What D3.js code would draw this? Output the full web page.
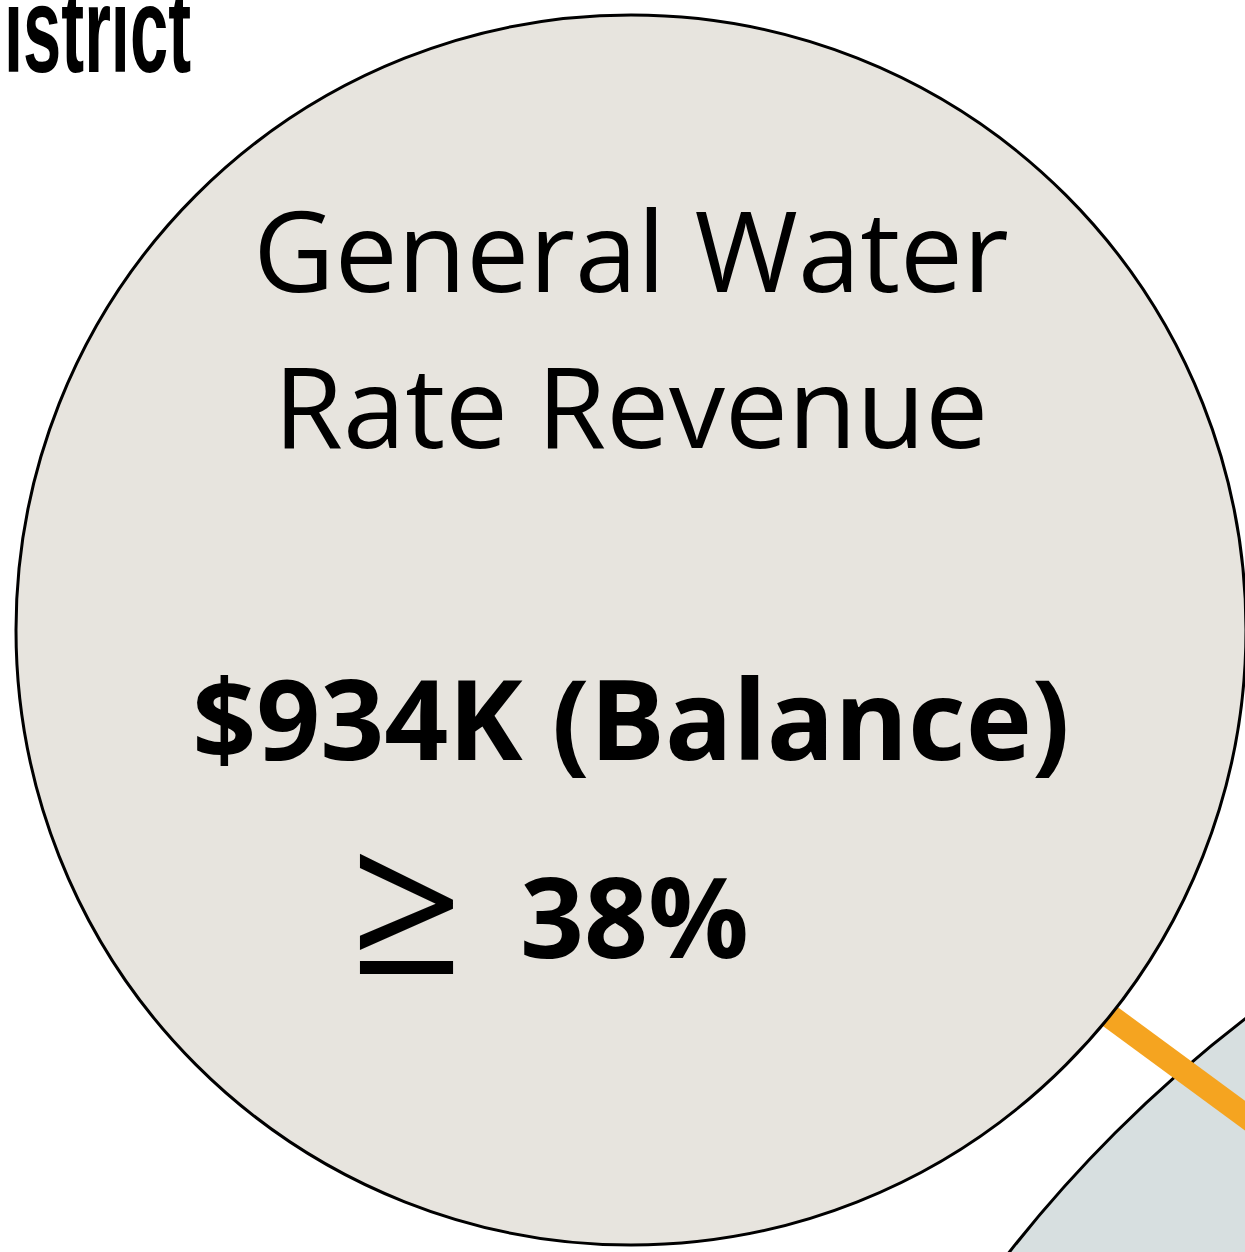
<!DOCTYPE html>
<html lang="en">
<head>
<meta charset="UTF-8">
<title>General Water Rate Revenue</title>
<style>
  html, body { margin: 0; padding: 0; background: #ffffff; }
  svg { display: block; }
</style>
</head>
<body>
<script src="https://d3js.org/d3.v7.min.js"></script>
<div id="chart"></div>
<script>
// data
const headerWord = "istrict";
const titleLines = ["General Water", "Rate Revenue"];
const balanceLabel = ["$934K", "(Balance)"];
const shareSymbol = "\u2265";
const shareValues = [38];

// page size
const width = 1245, height = 1252;

const svg = d3.select("#chart")
  .append("svg")
  .attr("width", width)
  .attr("height", height);

// the big neighbouring bubble (only its corner is seen)
svg.append("circle")
  .attr("cx", 2064)
  .attr("cy", 2082)
  .attr("r", 1342)
  .attr("fill", "#d7dfe0")
  .attr("stroke", "#000")
  .attr("stroke-width", 3);

// orange connector, runs under the main bubble
const link = d3.line();
svg.append("path")
  .attr("d", link([[900, 862], [1300, 1156]]))
  .attr("stroke", "#f5a420")
  .attr("stroke-width", 24)
  .attr("fill", "none");

// main bubble
const cx = 631, cy = 630, r = 615;
svg.append("circle")
  .attr("cx", cx)
  .attr("cy", cy)
  .attr("r", r)
  .attr("fill", "#e7e4de")
  .attr("stroke", "#000")
  .attr("stroke-width", 3);

// title, two lines
svg.append("g")
  .selectAll("text")
  .data(titleLines)
  .join("text")
  .attr("x", cx)
  .attr("y", (d, i) => 292 + i * 156)
  .attr("text-anchor", "middle")
  .attr("font-family", "'Open Sans', sans-serif")
  .attr("font-size", 112)
  .attr("fill", "#000")
  .text(d => d);

// balance amount
svg.append("text")
  .attr("x", cx)
  .attr("y", 760)
  .attr("text-anchor", "middle")
  .attr("font-family", "'Open Sans', sans-serif")
  .attr("font-weight", 700)
  .attr("font-size", 112)
  .attr("fill", "#000")
  .text(balanceLabel.join(" "));

// share: "≥ 38%"
svg.append("text")
  .attr("x", 350)
  .attr("y", 974)
  .attr("font-family", "'Open Sans', sans-serif")
  .attr("font-size", 198)
  .attr("fill", "#000")
  .text(shareSymbol);

svg.append("text")
  .attr("x", 520)
  .attr("y", 958)
  .attr("font-family", "'Open Sans', sans-serif")
  .attr("font-weight", 700)
  .attr("font-size", 112)
  .attr("fill", "#000")
  .text(shareValues.map(v => v + "%").join(" "));

// page header, cut by the top edge
svg.append("text")
  .attr("x", 4)
  .attr("y", 72)
  .attr("textLength", 187)
  .attr("lengthAdjust", "spacingAndGlyphs")
  .attr("font-family", "'Liberation Sans Narrow', 'Arial Narrow', sans-serif")
  .attr("font-weight", 700)
  .attr("font-size", 123)
  .attr("fill", "#000")
  .text(headerWord);
</script>
</body>
</html>
